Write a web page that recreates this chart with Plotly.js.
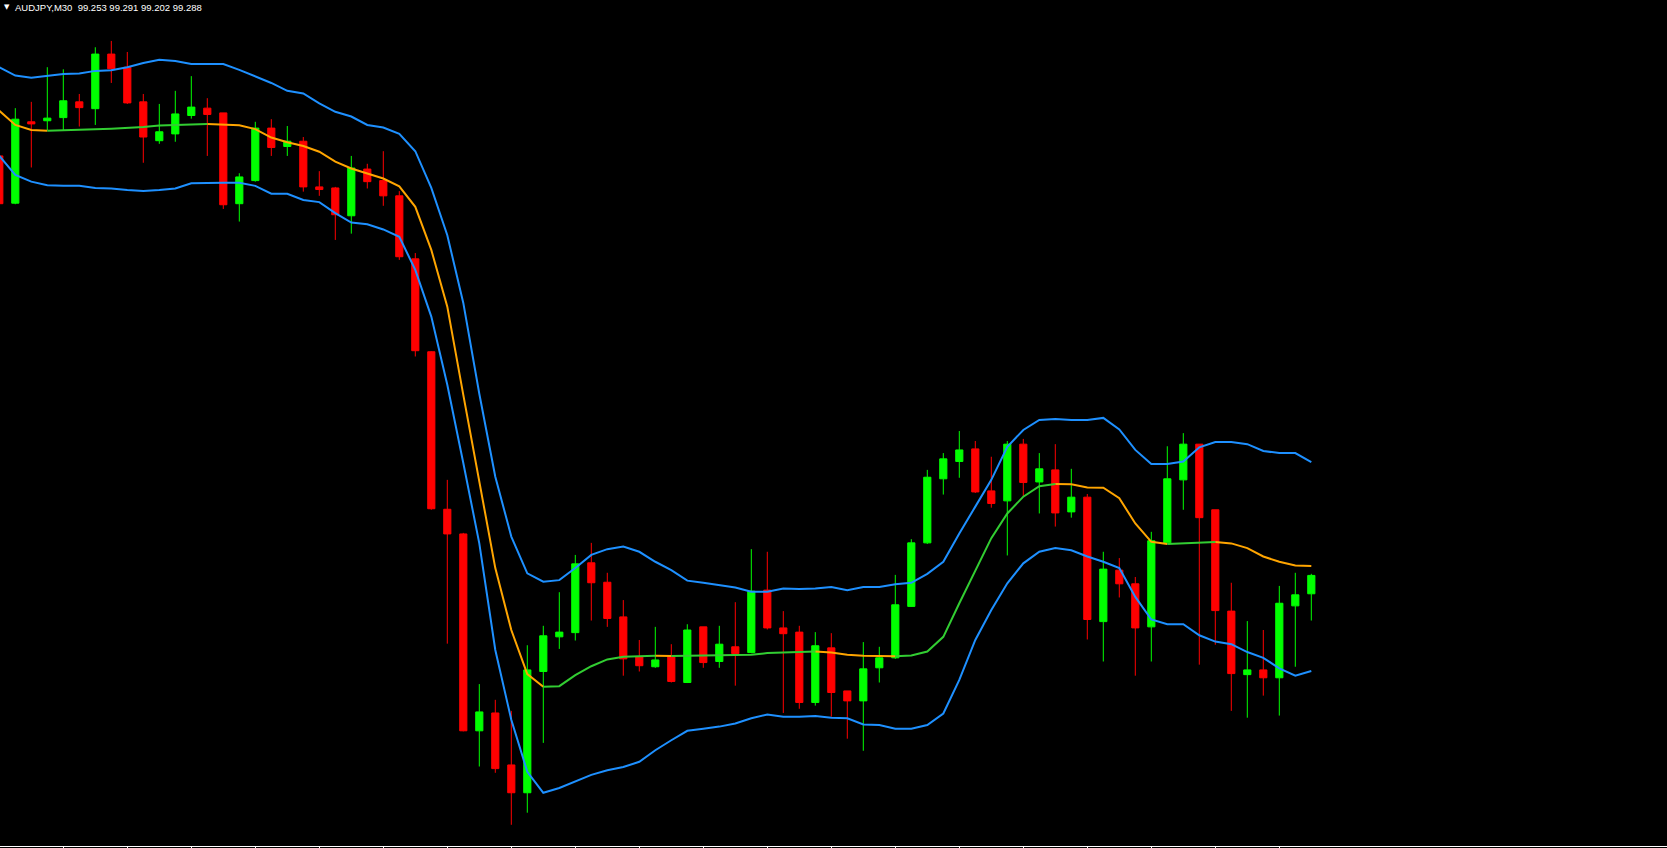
<!DOCTYPE html>
<html><head><meta charset="utf-8">
<script src="https://cdn.plot.ly/plotly-3.0.1.min.js"></script>
<style>html,body{margin:0;padding:0;background:#000;overflow:hidden}#chart{width:1667px;height:848px}</style>
</head><body><div id="chart"></div>
<script>
const symbol = "AUDJPY,M30";

const opens = [100.087,99.997,100.152,100.154,100.160,100.190,100.177,100.281,100.256,100.190,100.116,100.129,100.164,100.178,100.169,99.996,100.040,100.140,100.105,100.115,100.028,100.026,99.973,100.062,100.040,100.011,99.891,99.714,99.414,99.367,98.992,99.026,98.927,98.874,99.105,99.171,99.179,99.312,99.275,99.209,99.133,99.114,99.133,99.084,99.190,99.124,99.152,99.141,99.260,99.188,99.180,99.046,99.150,99.068,99.049,99.112,99.131,99.229,99.350,99.472,99.505,99.529,99.449,99.430,99.538,99.466,99.489,99.409,99.437,99.200,99.298,99.272,99.190,99.350,99.470,99.538,99.413,99.220,99.099,99.108,99.093,99.230,99.253];
const highs = [100.094,100.178,100.190,100.256,100.252,100.205,100.294,100.306,100.285,100.205,100.186,100.211,100.239,100.197,100.169,100.054,100.152,100.157,100.144,100.123,100.058,100.028,100.087,100.072,100.096,100.020,99.902,99.715,99.470,99.369,99.081,99.051,99.030,99.155,99.192,99.256,99.327,99.350,99.293,99.241,99.165,99.190,99.157,99.195,99.190,99.192,99.237,99.338,99.333,99.220,99.192,99.180,99.178,99.068,99.161,99.152,99.289,99.357,99.489,99.521,99.563,99.544,99.514,99.544,99.548,99.521,99.538,99.491,99.443,99.333,99.321,99.285,99.371,99.534,99.559,99.538,99.413,99.274,99.201,99.184,99.268,99.293,99.291];
const lows = [99.994,99.995,100.065,100.136,100.136,100.143,100.146,100.226,100.186,100.074,100.110,100.114,100.158,100.087,99.986,99.962,100.038,100.087,100.087,100.019,100.011,99.927,99.939,100.025,99.992,99.889,99.705,99.413,99.158,98.991,98.924,98.912,98.813,98.836,98.969,99.148,99.164,99.202,99.190,99.097,99.105,99.112,99.084,99.083,99.112,99.112,99.078,99.140,99.185,99.026,99.034,99.040,99.019,98.977,98.954,99.084,99.129,99.228,99.348,99.442,99.474,99.445,99.417,99.326,99.438,99.406,99.381,99.398,99.166,99.124,99.246,99.097,99.124,99.350,99.413,99.118,99.156,99.030,99.017,99.059,99.021,99.114,99.202];
const closes = [99.996,100.157,100.148,100.159,100.192,100.179,100.281,100.253,100.188,100.123,100.133,100.167,100.180,100.166,99.994,100.047,100.140,100.103,100.115,100.028,100.023,99.975,100.064,100.038,100.011,99.895,99.716,99.415,99.367,98.992,99.028,98.920,98.874,99.108,99.173,99.180,99.310,99.274,99.206,99.129,99.116,99.127,99.086,99.184,99.122,99.157,99.139,99.258,99.188,99.177,99.046,99.154,99.065,99.049,99.110,99.131,99.232,99.350,99.475,99.510,99.527,99.447,99.425,99.538,99.465,99.491,99.407,99.437,99.204,99.300,99.272,99.188,99.354,99.472,99.538,99.398,99.221,99.101,99.108,99.093,99.235,99.251,99.288];

const upperBand = [100.256,100.240,100.236,100.239,100.243,100.244,100.249,100.250,100.256,100.264,100.270,100.268,100.262,100.262,100.262,100.251,100.239,100.226,100.211,100.206,100.187,100.171,100.162,100.146,100.141,100.129,100.096,100.026,99.936,99.807,99.634,99.476,99.362,99.292,99.276,99.279,99.302,99.327,99.338,99.343,99.333,99.314,99.298,99.278,99.274,99.270,99.265,99.257,99.257,99.263,99.262,99.263,99.266,99.260,99.266,99.266,99.271,99.274,99.291,99.314,99.368,99.419,99.470,99.533,99.565,99.584,99.586,99.584,99.584,99.588,99.566,99.527,99.500,99.500,99.505,99.532,99.542,99.542,99.538,99.525,99.521,99.521,99.504];
const middleBand = [100.173,100.146,100.1364,100.1350,100.1364,100.137,100.138,100.139,100.140,100.142,100.145,100.146,100.147,100.148,100.147,100.1455,100.138,100.122,100.113,100.106,100.095,100.076,100.063,100.054,100.044,100.029,99.990,99.908,99.800,99.632,99.470,99.302,99.184,99.100,99.076,99.077,99.098,99.115,99.128,99.133,99.134,99.1352,99.1345,99.1350,99.1355,99.1360,99.1365,99.137,99.140,99.141,99.1415,99.143,99.141,99.137,99.135,99.1345,99.134,99.1355,99.143,99.171,99.235,99.298,99.359,99.406,99.438,99.458,99.462,99.4615,99.4555,99.4550,99.435,99.387,99.352,99.348,99.3495,99.3505,99.3515,99.349,99.340,99.324,99.314,99.307,99.306];
const lowerBand = [100.087,100.051,100.038,100.031,100.030,100.030,100.026,100.025,100.022,100.020,100.022,100.025,100.035,100.036,100.036,100.036,100.030,100.015,100.015,100.003,99.999,99.978,99.960,99.957,99.947,99.933,99.870,99.781,99.651,99.502,99.349,99.146,99.013,98.914,98.874,98.883,98.896,98.908,98.917,98.923,98.933,98.955,98.974,98.992,98.996,99.000,99.006,99.016,99.023,99.019,99.019,99.020,99.017,99.016,99.004,99.003,98.996,98.996,99.003,99.025,99.089,99.165,99.222,99.273,99.311,99.333,99.340,99.336,99.324,99.314,99.302,99.247,99.204,99.195,99.195,99.174,99.162,99.157,99.142,99.131,99.111,99.097,99.106];

const bars = opens.map((_, k) => k);
const tickBars = bars.filter(k => k > 0 && k % 4 === 0);

const BULL = '#00ff00', BEAR = '#ff0000', BAND = '#1e90ff', UP = '#32cd32', DOWN = '#ffa500';

// split middle line into runs coloured by slope (rising = green, falling = orange)
const upX = [], upY = [], dnX = [], dnY = [];
let runStart = 0;
for (let k = 1; k <= middleBand.length; k++) {
  const segDir = k < middleBand.length ? (middleBand[k] > middleBand[k-1]) : null;
  const startDir = middleBand[runStart+1] > middleBand[runStart];
  if (k === middleBand.length || segDir !== startDir) {
    const tx = startDir ? upX : dnX, ty = startDir ? upY : dnY;
    for (let j = runStart; j <= k-1; j++) { tx.push(bars[j]); ty.push(middleBand[j]); }
    tx.push(null); ty.push(null);
    runStart = k-1;
  }
}

const traces = [
  {type:'candlestick', x:bars, open:opens, high:highs, low:lows, close:closes,
   increasing:{line:{color:BULL,width:1}, fillcolor:BULL},
   decreasing:{line:{color:BEAR,width:1}, fillcolor:BEAR},
   whiskerwidth:0, hoverinfo:'skip', showlegend:false},
  {type:'scatter', mode:'lines', x:bars, y:upperBand, line:{color:BAND,width:2}, hoverinfo:'skip', showlegend:false},
  {type:'scatter', mode:'lines', x:bars, y:lowerBand, line:{color:BAND,width:2}, hoverinfo:'skip', showlegend:false},
  {type:'scatter', mode:'lines', x:dnX, y:dnY, line:{color:DOWN,width:2}, connectgaps:false, hoverinfo:'skip', showlegend:false},
  {type:'scatter', mode:'lines', x:upX, y:upY, line:{color:UP,width:2}, connectgaps:false, hoverinfo:'skip', showlegend:false}
];

const last = opens.length - 1;
const fmt = v => v.toFixed(3);
const header = symbol + '\u00a0\u00a0' + [opens[last], highs[last], lows[last], closes[last]].map(fmt).join(' ');

const layout = {
  width:1667, height:848,
  margin:{l:0, r:0, t:0, b:2, pad:0},
  paper_bgcolor:'#000', plot_bgcolor:'#000',
  boxgap:0.36,
  showlegend:false,
  xaxis:{range:[0.044, 104.23], showgrid:false, zeroline:false, showline:true, linecolor:'#ffffff', linewidth:1,
         ticks:'outside', ticklen:3, tickcolor:'#ffffff', tickwidth:1, tickmode:'array', tickvals:tickBars,
         showticklabels:false, rangeslider:{visible:false}, fixedrange:true},
  yaxis:{range:[98.7726, 100.384], showgrid:false, zeroline:false, showline:false, showticklabels:false, ticks:'', fixedrange:true},
  annotations:[
    {xref:'paper', yref:'paper', x:2/1667, y:1-7/846, xanchor:'left', yanchor:'middle', showarrow:false,
     text:'\u25bc', font:{family:'DejaVu Sans', size:7, color:'#ffffff'}},
    {xref:'paper', yref:'paper', x:13/1667, y:1-7.5/846, xanchor:'left', yanchor:'middle', showarrow:false,
     text:header, font:{family:'Liberation Sans, Arial, sans-serif', size:9.5, color:'#ffffff'}}
  ]
};

Plotly.newPlot('chart', traces, layout, {staticPlot:true, displayModeBar:false});
</script></body></html>
